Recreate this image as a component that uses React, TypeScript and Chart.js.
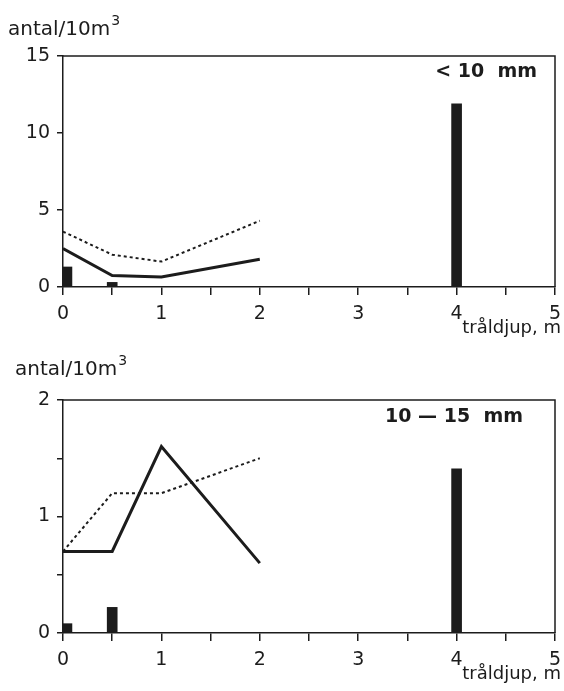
import React, { useEffect, useRef } from 'react';
import { Chart, registerables } from 'chart.js';

Chart.register(...registerables);

// ---- data ----
const lineDepths = [0, 0.5, 1, 2];
const barDepths = [0.04, 0.5, 4];

const smallSolid = [2.5, 0.75, 0.65, 1.8];
const smallDotted = [3.6, 2.1, 1.65, 4.3];
const smallBars = [1.3, 0.3, 11.9];

const midSolid = [0.7, 0.7, 1.6, 0.6];
const midDotted = [0.7, 1.2, 1.2, 1.5];
const midBars = [0.08, 0.22, 1.41];

const xLabelTicks = [0, 1, 2, 3, 4, 5];
const smallYLabelTicks = [0, 5, 10, 15];
const midYLabelTicks = [0, 1, 2];

const yTitleMain = 'antal/10m';
const yTitleSup = '3';
const xTitle = 'tråldjup, m';
const smallLabel = '< 10  mm';
const midLabel = '10 — 15  mm';

const INK = '#1c1c1c';
const FONT = 'DejaVu Sans';

const annotPlugin = {
  id: 'annot',
  afterDraw(chart: any, _args: any, opts: any) {
    const { ctx, chartArea } = chart;
    ctx.save();
    // frame (top and right)
    ctx.strokeStyle = INK;
    ctx.lineWidth = 1.5;
    ctx.beginPath();
    ctx.moveTo(chartArea.left, chartArea.top);
    ctx.lineTo(chartArea.right, chartArea.top);
    ctx.lineTo(chartArea.right, chartArea.bottom);
    ctx.stroke();

    ctx.fillStyle = INK;
    // size-class label
    ctx.font = `bold 19px "${FONT}"`;
    ctx.textAlign = 'right';
    ctx.textBaseline = 'alphabetic';
    ctx.fillText(opts.label, chartArea.right - opts.labelDx, chartArea.top + opts.labelDy);

    // y title with superscript
    ctx.font = `20px "${FONT}"`;
    ctx.textAlign = 'left';
    ctx.fillText(yTitleMain, opts.yTitleX, opts.yTitleY);
    const w = ctx.measureText(yTitleMain).width;
    ctx.font = `14px "${FONT}"`;
    ctx.fillText(yTitleSup, opts.yTitleX + w + 1, opts.yTitleY - 10);

    // x title
    ctx.font = `18px "${FONT}"`;
    ctx.textAlign = 'right';
    ctx.fillText(xTitle, 561, chartArea.bottom + opts.xTitleDy);
    ctx.restore();
  },
};

function makeConfig(
  solid: number[],
  dotted: number[],
  bars: number[],
  yMax: number,
  yStep: number,
  yLabelTicks: number[],
  annot: any,
  padTop: number
): any {
  const tickFont = { family: FONT, size: 19 };
  return {
    type: 'line',
    data: {
      datasets: [
        {
          type: 'bar',
          data: barDepths.map((x, i) => ({ x, y: bars[i] })),
          backgroundColor: INK,
          borderWidth: 0,
          barThickness: 10,
        },
        {
          type: 'line',
          data: lineDepths.map((x, i) => ({ x, y: solid[i] })),
          borderColor: INK,
          borderWidth: 3,
          pointRadius: 0,
          tension: 0,
          fill: false,
        },
        {
          type: 'line',
          data: lineDepths.map((x, i) => ({ x, y: dotted[i] })),
          borderColor: INK,
          borderWidth: 2,
          borderDash: [3, 3],
          pointRadius: 0,
          tension: 0,
          fill: false,
        },
      ],
    },
    options: {
      animation: false,
      responsive: false,
      devicePixelRatio: 1,
      layout: { padding: { top: padTop, right: 9, left: 0, bottom: 0 } },
      plugins: {
        legend: { display: false },
        tooltip: { enabled: false },
        annot,
      },
      scales: {
        x: {
          type: 'linear',
          min: 0,
          max: 5,
          offset: false,
          ticks: {
            stepSize: 0.5,
            autoSkip: false,
            maxRotation: 0,
            font: tickFont,
            color: INK,
            padding: 8,
            callback: (v: number) => (xLabelTicks.includes(v) ? String(v) : ''),
          },
          grid: {
            display: true,
            drawOnChartArea: false,
            drawTicks: true,
            tickLength: 8,
            color: INK,
            lineWidth: 1.5,
            offset: false,
          },
          border: { display: true, color: INK, width: 1.5 },
          afterFit: (s: any) => {
            s.height = 58;
            s.paddingLeft = 0;
            s.paddingRight = 0;
          },
        },
        y: {
          type: 'linear',
          min: 0,
          max: yMax,
          ticks: {
            stepSize: yStep,
            autoSkip: false,
            font: tickFont,
            color: INK,
            padding: 7,
            callback: (v: number) => (yLabelTicks.includes(v) ? String(v) : ''),
          },
          grid: {
            display: true,
            drawOnChartArea: false,
            drawTicks: true,
            tickLength: 6,
            color: INK,
            lineWidth: 1.5,
          },
          border: { display: true, color: INK, width: 1.5 },
          afterFit: (s: any) => {
            s.width = 63;
            s.paddingTop = 0;
            s.paddingBottom = 0;
          },
        },
      },
    },
    plugins: [annotPlugin],
  };
}

function ChartCanvas({ config, height }: { config: () => any; height: number }) {
  const ref = useRef<HTMLCanvasElement | null>(null);
  useEffect(() => {
    if (!ref.current) return;
    const chart = new Chart(ref.current, config());
    return () => chart.destroy();
  }, []);
  return <canvas ref={ref} width={564} height={height} style={{ display: 'block', width: 564, height }} />;
}

export default function App() {
  return (
    <div style={{ position: 'absolute', left: 0, top: 0, width: 564, height: 691, background: '#fff' }}>
      <ChartCanvas
        height={345}
        config={() =>
          makeConfig(smallSolid, smallDotted, smallBars, 15, 5, smallYLabelTicks, {
            label: smallLabel,
            labelDx: 18,
            labelDy: 21,
            yTitleX: 8,
            yTitleY: 35,
            xTitleDy: 46,
          }, 56)
        }
      />
      <ChartCanvas
        height={346}
        config={() =>
          makeConfig(midSolid, midDotted, midBars, 2, 0.5, midYLabelTicks, {
            label: midLabel,
            labelDx: 32,
            labelDy: 22,
            yTitleX: 15,
            yTitleY: 30,
            xTitleDy: 46,
          }, 55)
        }
      />
    </div>
  );
}
